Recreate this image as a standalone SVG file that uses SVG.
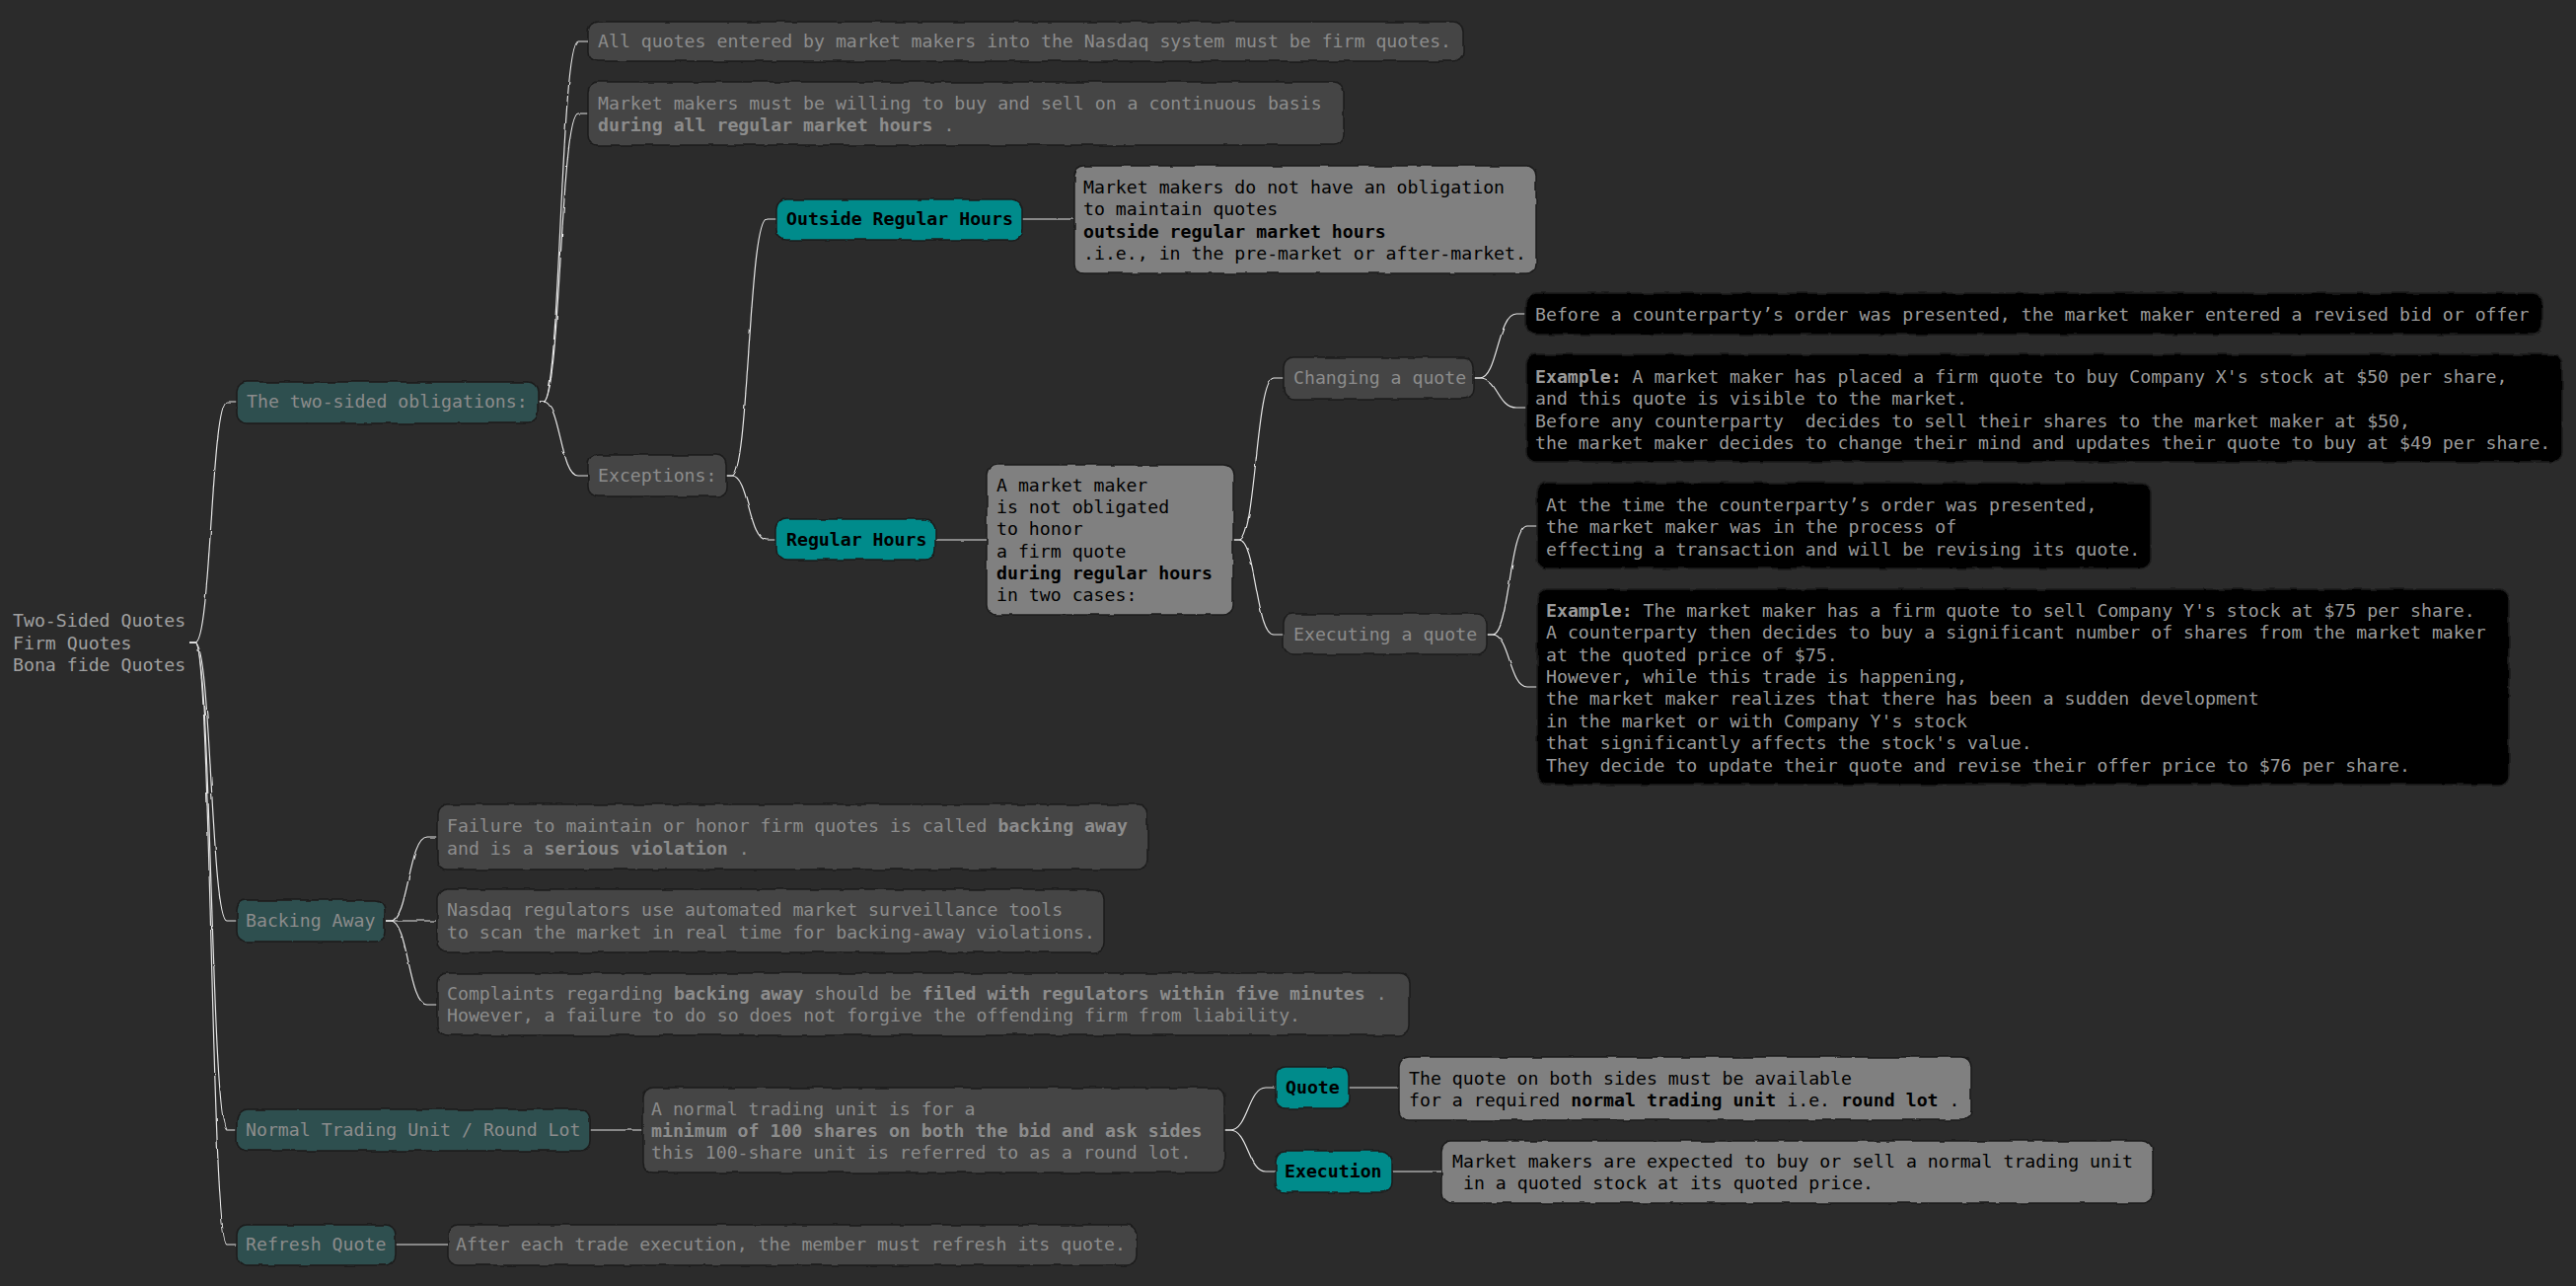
<svg xmlns="http://www.w3.org/2000/svg" width="2611" height="1303" viewBox="0 0 2611 1303">
<defs>
<filter id="wob" x="-5%" y="-20%" width="110%" height="140%">
<feTurbulence type="fractalNoise" baseFrequency="0.05" numOctaves="2" seed="4" result="n"/>
<feDisplacementMap in="SourceGraphic" in2="n" scale="4" xChannelSelector="R" yChannelSelector="G"/>
</filter>
<filter id="wobl" filterUnits="userSpaceOnUse" x="0" y="0" width="2611" height="1303">
<feTurbulence type="fractalNoise" baseFrequency="0.06" numOctaves="2" seed="7" result="n"/>
<feDisplacementMap in="SourceGraphic" in2="n" scale="2.5" xChannelSelector="R" yChannelSelector="G"/>
</filter>
</defs>
<style>
text{font-family:"DejaVu Sans Mono","Liberation Mono",monospace;font-size:18.2px;}
.b{font-weight:bold;}
.box{stroke:#1c1c1c;stroke-width:1.5;filter:url(#wob);}
.sl{fill:#2f4f4f;}
.dg{fill:#444444;}
.tl{fill:#008b8b;}
.gr{fill:#808080;}
.bk{fill:#000000;}
.tg{fill:#8c8c8c;}
.tk{fill:#000000;}
.tb{fill:#9a9a9a;}
.tr{fill:#a0a0a0;}
.con path{fill:none;stroke:#e6e6e6;stroke-width:1.2;}
</style>
<rect x="0" y="0" width="2611" height="1303" fill="#2b2b2b"/>

<g class="con" filter="url(#wobl)">
<path d="M192 651 L198 651 C214 651 214 407 230 407 L240 407"/>
<path d="M192 651 L198 651 C214 651 214 933 230 933 L240 933"/>
<path d="M192 651 L198 651 C214 651 214 1145 230 1145 L240 1145"/>
<path d="M192 651 L198 651 C214 651 214 1261 230 1261 L240 1261"/>
<path d="M545 407 L551 407 C568 407 568 42 586 42 L596 42"/>
<path d="M545 407 L551 407 C568 407 568 115 586 115 L596 115"/>
<path d="M545 407 L551 407 C568 407 568 482 586 482 L596 482"/>
<path d="M736 482 L742 482 C759 482 759 222 777 222 L787 222"/>
<path d="M736 482 L742 482 C759 482 759 547 777 547 L787 547"/>
<path d="M1036 222 L1089 222"/>
<path d="M948 547 L1000 547"/>
<path d="M1250 547 L1256 547 C1273 547 1273 383 1291 383 L1301 383"/>
<path d="M1250 547 L1256 547 C1273 547 1273 643 1291 643 L1301 643"/>
<path d="M1494 383 L1500 383 C1518 383 1518 318 1537 318 L1547 318"/>
<path d="M1494 383 L1500 383 C1518 383 1518 413 1537 413 L1547 413"/>
<path d="M1507 643 L1513 643 C1530 643 1530 533 1548 533 L1558 533"/>
<path d="M1507 643 L1513 643 C1530 643 1530 696 1548 696 L1558 696"/>
<path d="M390 933 L396 933 C414 933 414 848 433 848 L443 848"/>
<path d="M390 933 L443 933"/>
<path d="M390 933 L396 933 C414 933 414 1018 433 1018 L443 1018"/>
<path d="M598 1145 L652 1145"/>
<path d="M1241 1145 L1247 1145 C1265 1145 1265 1102 1283 1102 L1293 1102"/>
<path d="M1241 1145 L1247 1145 C1265 1145 1265 1187 1283 1187 L1293 1187"/>
<path d="M1367 1102 L1418 1102"/>
<path d="M1411 1187 L1461 1187"/>
<path d="M401 1261 L454 1261"/>
</g>

<g id="root">
<text class="tr" x="13" y="635">Two-Sided Quotes</text>
<text class="tr" x="13" y="658">Firm Quotes</text>
<text class="tr" x="13" y="680">Bona fide Quotes</text>
</g>

<g id="n1"><rect class="box sl" x="240" y="387" width="305" height="42" rx="10"/>
<text class="tg" x="250" y="413">The two-sided obligations:</text></g>

<g id="n2"><rect class="box dg" x="596" y="22" width="887" height="40" rx="10"/>
<text class="tg" x="606" y="48">All quotes entered by market makers into the Nasdaq system must be firm quotes.</text></g>

<g id="n3"><rect class="box dg" x="596" y="83" width="766" height="64" rx="10"/>
<text class="tg" x="606" y="111">Market makers must be willing to buy and sell on a continuous basis</text>
<text class="tg" x="606" y="133"><tspan class="b">during all regular market hours</tspan> .</text></g>

<g id="n4"><rect class="box dg" x="596" y="461" width="140" height="42" rx="10"/>
<text class="tg" x="606" y="488">Exceptions:</text></g>

<g id="n5"><rect class="box tl" x="787" y="202" width="249" height="41" rx="10"/>
<text class="tk b" x="797" y="228">Outside Regular Hours</text></g>

<g id="n6"><rect class="box gr" x="1089" y="168" width="468" height="109" rx="10"/>
<text class="tk" x="1098" y="196">Market makers do not have an obligation</text>
<text class="tk" x="1098" y="218">to maintain quotes</text>
<text class="tk b" x="1098" y="241">outside regular market hours</text>
<text class="tk" x="1098" y="263">.i.e., in the pre-market or after-market.</text></g>

<g id="n7"><rect class="box tl" x="787" y="526" width="161" height="41" rx="10"/>
<text class="tk b" x="797" y="553">Regular Hours</text></g>

<g id="n8"><rect class="box gr" x="1000" y="471" width="250" height="152" rx="10"/>
<text class="tk" x="1010" y="498">A market maker</text>
<text class="tk" x="1010" y="520">is not obligated</text>
<text class="tk" x="1010" y="542">to honor</text>
<text class="tk" x="1010" y="565">a firm quote</text>
<text class="tk b" x="1010" y="587">during regular hours</text>
<text class="tk" x="1010" y="609">in two cases:</text></g>

<g id="n9"><rect class="box dg" x="1301" y="362" width="193" height="42" rx="10"/>
<text class="tg" x="1311" y="389">Changing a quote</text></g>

<g id="n10"><rect class="box bk" x="1547" y="297" width="1030" height="42" rx="10"/>
<text class="tb" x="1556" y="325">Before a counterparty’s order was presented, the market maker entered a revised bid or offer</text></g>

<g id="n11"><rect class="box bk" x="1547" y="359" width="1050" height="109" rx="10"/>
<text class="tb" x="1556" y="388"><tspan class="b">Example:</tspan> A market maker has placed a firm quote to buy Company X's stock at $50 per share,</text>
<text class="tb" x="1556" y="410">and this quote is visible to the market.</text>
<text class="tb" x="1556" y="433" xml:space="preserve">Before any counterparty  decides to sell their shares to the market maker at $50,</text>
<text class="tb" x="1556" y="455">the market maker decides to change their mind and updates their quote to buy at $49 per share.</text></g>

<g id="n12"><rect class="box dg" x="1301" y="622" width="206" height="41" rx="10"/>
<text class="tg" x="1311" y="649">Executing a quote</text></g>

<g id="n13"><rect class="box bk" x="1558" y="489" width="622" height="87" rx="10"/>
<text class="tb" x="1567" y="518">At the time the counterparty’s order was presented,</text>
<text class="tb" x="1567" y="540">the market maker was in the process of</text>
<text class="tb" x="1567" y="563">effecting a transaction and will be revising its quote.</text></g>

<g id="n14"><rect class="box bk" x="1558" y="597" width="985" height="198" rx="10"/>
<text class="tb" x="1567" y="625"><tspan class="b">Example:</tspan> The market maker has a firm quote to sell Company Y's stock at $75 per share.</text>
<text class="tb" x="1567" y="647">A counterparty then decides to buy a significant number of shares from the market maker</text>
<text class="tb" x="1567" y="670">at the quoted price of $75.</text>
<text class="tb" x="1567" y="692">However, while this trade is happening,</text>
<text class="tb" x="1567" y="714">the market maker realizes that there has been a sudden development</text>
<text class="tb" x="1567" y="737">in the market or with Company Y's stock</text>
<text class="tb" x="1567" y="759">that significantly affects the stock's value.</text>
<text class="tb" x="1567" y="782">They decide to update their quote and revise their offer price to $76 per share.</text></g>

<g id="n15"><rect class="box sl" x="240" y="912" width="150" height="42" rx="10"/>
<text class="tg" x="249" y="939">Backing Away</text></g>

<g id="n16"><rect class="box dg" x="443" y="815" width="720" height="66" rx="10"/>
<text class="tg" x="453" y="843">Failure to maintain or honor firm quotes is called <tspan class="b">backing away</tspan></text>
<text class="tg" x="453" y="866">and is a <tspan class="b">serious violation</tspan> .</text></g>

<g id="n17"><rect class="box dg" x="443" y="901" width="676" height="64" rx="10"/>
<text class="tg" x="453" y="928">Nasdaq regulators use automated market surveillance tools</text>
<text class="tg" x="453" y="951">to scan the market in real time for backing-away violations.</text></g>

<g id="n18"><rect class="box dg" x="443" y="986" width="985" height="63" rx="10"/>
<text class="tg" x="453" y="1013">Complaints regarding <tspan class="b">backing away</tspan> should be <tspan class="b">filed with regulators within five minutes</tspan> .</text>
<text class="tg" x="453" y="1035">However, a failure to do so does not forgive the offending firm from liability.</text></g>

<g id="n19"><rect class="box sl" x="240" y="1124" width="358" height="42" rx="10"/>
<text class="tg" x="249" y="1151">Normal Trading Unit / Round Lot</text></g>

<g id="n20"><rect class="box dg" x="652" y="1102" width="589" height="86" rx="10"/>
<text class="tg" x="660" y="1130">A normal trading unit is for a</text>
<text class="tg b" x="660" y="1152">minimum of 100 shares on both the bid and ask sides</text>
<text class="tg" x="660" y="1174">this 100-share unit is referred to as a round lot.</text></g>

<g id="n21"><rect class="box tl" x="1293" y="1081" width="74" height="42" rx="10"/>
<text class="tk b" x="1303" y="1108">Quote</text></g>

<g id="n22"><rect class="box gr" x="1418" y="1071" width="580" height="64" rx="10"/>
<text class="tk" x="1428" y="1099">The quote on both sides must be available</text>
<text class="tk" x="1428" y="1121">for a required <tspan class="b">normal trading unit</tspan> i.e. <tspan class="b">round lot</tspan> .</text></g>

<g id="n23"><rect class="box tl" x="1293" y="1166" width="118" height="42" rx="10"/>
<text class="tk b" x="1302" y="1193">Execution</text></g>

<g id="n24"><rect class="box gr" x="1461" y="1156" width="721" height="63" rx="10"/>
<text class="tk" x="1472" y="1183">Market makers are expected to buy or sell a normal trading unit</text>
<text class="tk" x="1472" y="1205" xml:space="preserve"> in a quoted stock at its quoted price.</text></g>

<g id="n25"><rect class="box sl" x="240" y="1241" width="161" height="41" rx="10"/>
<text class="tg" x="249" y="1267">Refresh Quote</text></g>

<g id="n26"><rect class="box dg" x="454" y="1241" width="698" height="41" rx="10"/>
<text class="tg" x="462" y="1267">After each trade execution, the member must refresh its quote.</text></g>
</svg>
